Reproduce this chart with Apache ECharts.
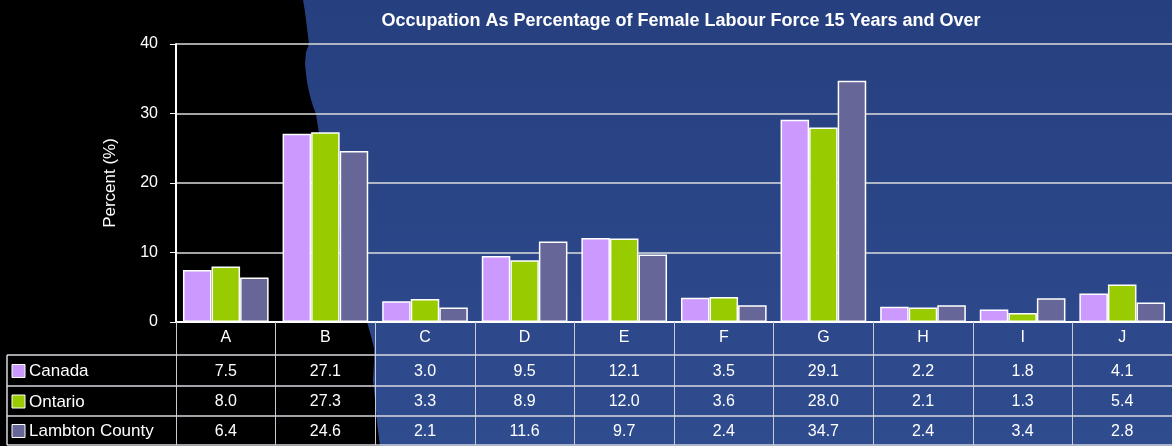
<!DOCTYPE html>
<html>
<head>
<meta charset="utf-8">
<script src="https://cdn.jsdelivr.net/npm/echarts@6/dist/echarts.min.js"></script>
<style>html,body{margin:0;padding:0;background:#000;}#c{width:1172px;height:446px;}</style>
</head>
<body>
<div id="c"></div>
<script>
const categories = ['A', 'B', 'C', 'D', 'E', 'F', 'G', 'H', 'I', 'J'];
const canada = [7.5, 27.1, 3.0, 9.5, 12.1, 3.5, 29.1, 2.2, 1.8, 4.1];
const ontario = [8.0, 27.3, 3.3, 8.9, 12.0, 3.6, 28.0, 2.1, 1.3, 5.4];
const lambton = [6.4, 24.6, 2.1, 11.6, 9.7, 2.4, 34.7, 2.4, 3.4, 2.8];
const seriesNames = ['Canada', 'Ontario', 'Lambton County'];
const seriesColors = ['#cc99ff', '#99cc00', '#666699'];
const yMin = 0, yMax = 40, yInterval = 10;
const titleText = 'Occupation As Percentage of Female Labour Force 15 Years and Over';
const yAxisName = 'Percent (%)';

const FONT = '"Liberation Sans", Arial, sans-serif';
const allData = [canada, ontario, lambton];

const chart = echarts.init(document.getElementById('c'), null, {renderer: 'canvas'});

// Ragged-edge blue backdrop (decorative background)
const edge = [[303,0],[305,12],[307,28],[309,44],[306,52],[305,64],[307,82],[310,96],[313,106],[316,114],[320,140],[328,180],[340,230],[352,270],[362,305],[367,322],[371,336],[374,348],[374,362],[373,380],[375,400],[377,422],[380,446]];
const bgPoly = [[1172,0]].concat(edge).concat([[1172,446]]);
const bgGraphic = {
  type: 'polygon', z: -100, silent: true,
  shape: {points: bgPoly},
  style: {fill: new echarts.graphic.LinearGradient(0, 0, 0, 1, [
    {offset: 0, color: '#263f7f'}, {offset: 1, color: '#2f4c8f'}
  ])}
};

chart.setOption({
  backgroundColor: '#000',
  animation: false,
  title: {
    text: titleText, left: 676, top: 7, textAlign: 'center',
    textStyle: {color: '#fff', fontSize: 18, fontWeight: 'bold', fontFamily: FONT}
  },
  grid: {left: 176, right: 0, top: 44, bottom: 124, containLabel: false},
  xAxis: {
    type: 'category', data: categories,
    axisLine: {show: true, lineStyle: {color: '#fff', width: 2}},
    axisTick: {show: true, length: 123, lineStyle: {color: '#c8c8d0', width: 1}},
    axisLabel: {color: '#fff', fontSize: 16, fontFamily: FONT, margin: 8, interval: 0},
    splitLine: {show: false}
  },
  yAxis: {
    type: 'value', min: yMin, max: yMax, interval: yInterval,
    name: yAxisName, nameLocation: 'middle', nameGap: 57,
    nameTextStyle: {color: '#fff', fontSize: 17, fontFamily: FONT},
    axisLine: {show: true, lineStyle: {color: '#fff', width: 2}},
    axisTick: {show: true, inside: false, length: 6, lineStyle: {color: '#fff'}},
    axisLabel: {color: '#fff', fontSize: 16, fontFamily: FONT, margin: 18},
    splitLine: {show: true, lineStyle: {color: '#dcdcdc', width: 1.5}}
  },
  series: seriesNames.map((n, i) => ({
    name: n, type: 'bar', data: allData[i],
    barGap: '0%', barCategoryGap: '14%',
    itemStyle: {color: seriesColors[i], borderColor: '#fff', borderWidth: 1.5}
  })),
  graphic: [bgGraphic]
});

// Data table below the chart, placed through the category axis
function buildTable() {
  const g = [bgGraphic];
  const left = 7, right = 1172;
  const rowTops = [355, 386, 416, 445];
  const lineColor = '#d8d8e0';
  rowTops.forEach(y => g.push({type: 'line', silent: true, z: 50,
    shape: {x1: left, y1: y, x2: right, y2: y}, style: {stroke: lineColor, lineWidth: 1.5}}));
  g.push({type: 'line', silent: true, z: 50,
    shape: {x1: left, y1: rowTops[0], x2: left, y2: rowTops[3]}, style: {stroke: lineColor, lineWidth: 1.5}});
  seriesNames.forEach((name, r) => {
    const cy = (rowTops[r] + rowTops[r + 1]) / 2 + 1;
    g.push({type: 'rect', z: 50, silent: true,
      shape: {x: 12, y: cy - 7, width: 13, height: 13},
      style: {fill: seriesColors[r], stroke: '#fff', lineWidth: 1}});
    g.push({type: 'text', z: 50, silent: true, x: 29, y: cy,
      style: {text: name, fill: '#fff', font: '17px ' + FONT, textVerticalAlign: 'middle', verticalAlign: 'middle'}});
    allData[r].forEach((v, c) => {
      const px = chart.convertToPixel({xAxisIndex: 0}, categories[c]);
      g.push({type: 'text', z: 50, silent: true, x: px, y: cy,
        style: {text: v.toFixed(1), fill: '#fff', font: '16px ' + FONT,
          align: 'center', textAlign: 'center', verticalAlign: 'middle', textVerticalAlign: 'middle'}});
    });
  });
  chart.setOption({graphic: g});
}
buildTable();
</script>
</body>
</html>
